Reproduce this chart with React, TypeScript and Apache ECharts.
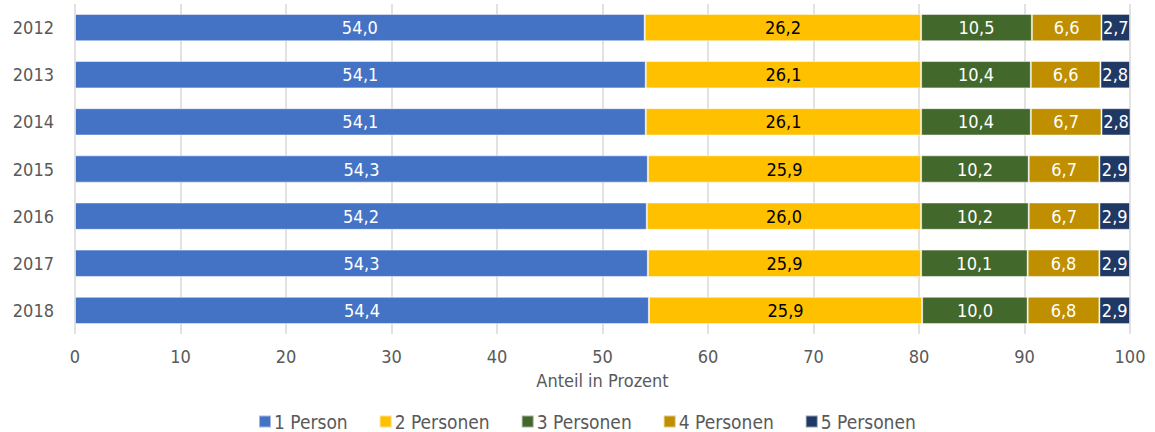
import React, { useEffect, useRef } from "react";
import * as echarts from "echarts";

const years = ["2012", "2013", "2014", "2015", "2016", "2017", "2018"];
const seriesNames = ["1 Person", "2 Personen", "3 Personen", "4 Personen", "5 Personen"];
const p1 = [54.0, 54.1, 54.1, 54.3, 54.2, 54.3, 54.4];
const p2 = [26.2, 26.1, 26.1, 25.9, 26.0, 25.9, 25.9];
const p3 = [10.5, 10.4, 10.4, 10.2, 10.2, 10.1, 10.0];
const p4 = [6.6, 6.6, 6.7, 6.7, 6.7, 6.8, 6.8];
const p5 = [2.7, 2.8, 2.8, 2.9, 2.9, 2.9, 2.9];
const colors = ["#4472C4", "#FFC000", "#43682B", "#BF8F00", "#203864"];
const labelColors = ["#ffffff", "#000000", "#ffffff", "#ffffff", "#ffffff"];
const xTicks = { min: 0, max: 100, interval: 10 };

const FONT = "'DejaVu Sans Condensed', 'Roboto', sans-serif";

export default function App() {
  const ref = useRef<HTMLDivElement>(null);
  useEffect(() => {
    document.body.style.margin = "0";
    if (!ref.current) return;
    const chart = echarts.init(ref.current, null, { renderer: "svg" });
    const data = [p1, p2, p3, p4, p5];
    chart.setOption({
      animation: false,
      textStyle: { fontFamily: FONT },
      grid: { left: 75, right: 25, top: 4, bottom: 98, containLabel: false },
      legend: {
        bottom: 1,
        left: 258,
        padding: 0,
        itemWidth: 12,
        itemHeight: 12,
        itemGap: 31,
        icon: "rect",
        textStyle: { fontFamily: FONT, fontSize: 19, color: "#595959", padding: [0, 0, 0, -2] },
        data: seriesNames,
      },
      xAxis: {
        type: "value",
        min: xTicks.min,
        max: xTicks.max,
        interval: xTicks.interval,
        name: "Anteil in Prozent",
        nameLocation: "middle",
        nameGap: 37,
        nameTextStyle: { fontFamily: FONT, fontSize: 18, color: "#595959" },
        axisLabel: { fontFamily: FONT, fontSize: 18, color: "#595959", margin: 13 },
        axisLine: { show: false },
        axisTick: { show: false },
        splitLine: { show: true, lineStyle: { color: "#d9d9d9", width: 1.5 } },
      },
      yAxis: {
        type: "category",
        data: years,
        inverse: true,
        axisLabel: { fontFamily: FONT, fontSize: 18, color: "#595959", margin: 21 },
        axisLine: { show: false },
        axisTick: { show: false },
      },
      series: seriesNames.map((name, i) => ({
        name,
        type: "bar",
        stack: "total",
        barWidth: "58%",
        data: data[i],
        itemStyle: { color: colors[i], borderColor: "rgba(255,255,255,0.5)", borderWidth: 1 },
        label: {
          show: true,
          position: "inside",
          fontFamily: FONT,
          fontSize: 18,
          color: labelColors[i],
          formatter: (p: any) => p.value.toFixed(1).replace(".", ","),
        },
      })),
    });
    return () => chart.dispose();
  }, []);
  return <div ref={ref} style={{ width: 1155, height: 432 }} />;
}
